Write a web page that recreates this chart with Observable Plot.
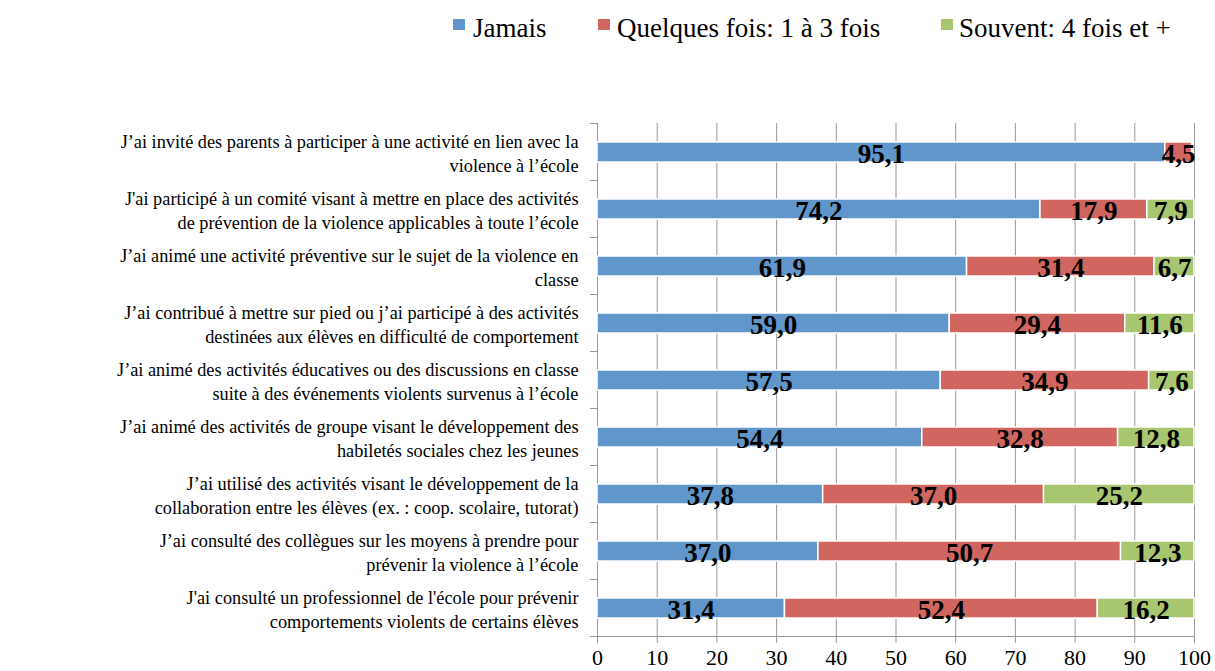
<!DOCTYPE html>
<html><head><meta charset="utf-8">
<script src="https://cdn.jsdelivr.net/npm/d3@7"></script>
<script src="https://cdn.jsdelivr.net/npm/@observablehq/plot@0.6"></script>
<style>
body{margin:0;background:#fff;font-family:"Liberation Serif",serif;}
#legend{position:relative;height:50px;width:1215px;}
.sw{position:absolute;width:12px;height:11px;top:19px}
.lt{position:absolute;top:13px;font-size:27px;line-height:30px;color:#000;white-space:nowrap}
</style></head><body>
<div id="legend"></div><div id="chart"></div>
<script>
const categories = [
  "J’ai invité des parents à participer à une activité en lien avec la\nviolence à l’école",
  "J'ai participé à un comité visant à mettre en place des activités\nde prévention de la violence applicables à toute l’école",
  "J’ai animé une activité préventive sur le sujet de la violence en\nclasse",
  "J’ai contribué à mettre sur pied ou j’ai participé à des activités\ndestinées aux élèves en difficulté de comportement",
  "J’ai animé des activités éducatives ou des discussions en classe\nsuite à des événements violents survenus à l’école",
  "J’ai animé des activités de groupe visant le développement des\nhabiletés sociales chez les jeunes",
  "J’ai utilisé des activités visant le développement de la\ncollaboration entre les élèves (ex. : coop. scolaire, tutorat)",
  "J’ai consulté des collègues sur les moyens à prendre pour\nprévenir la violence à l’école",
  "J'ai consulté un professionnel de l'école pour prévenir\ncomportements violents de certains élèves"
];
const seriesNames = ["Jamais", "Quelques fois: 1 à 3 fois", "Souvent: 4 fois et +"];
const jamais   = [95.1, 74.2, 61.9, 59.0, 57.5, 54.4, 37.8, 37.0, 31.4];
const quelques = [4.5, 17.9, 31.4, 29.4, 34.9, 32.8, 37.0, 50.7, 52.4];
const souvent  = [null, 7.9, 6.7, 11.6, 7.6, 12.8, 25.2, 12.3, 16.2];
const colors = ["#6096CA", "#D0665F", "#A8C56F"];
const xTicks = [0, 10, 20, 30, 40, 50, 60, 70, 80, 90, 100];

const seriesValues = [jamais, quelques, souvent];
const rows = [];
categories.forEach((c, i) => {
  seriesNames.forEach((s, j) => {
    const v = seriesValues[j][i];
    if (v != null) rows.push({cat: c, series: s, value: v});
  });
});

// legend
const legendPos = [[453, 473], [598, 617], [941, 959]];
const leg = document.getElementById("legend");
seriesNames.forEach((s, j) => {
  const sw = document.createElement("div");
  sw.className = "sw"; sw.style.left = legendPos[j][0] + "px"; sw.style.background = colors[j];
  const t = document.createElement("div");
  t.className = "lt"; t.style.left = legendPos[j][1] + "px"; t.textContent = s;
  leg.appendChild(sw); leg.appendChild(t);
});

const fmt = v => v.toFixed(1).replace(".", ",");
const gray = "#999";

const chart = Plot.plot({
  width: 1215, height: 621,
  marginLeft: 597, marginRight: 21, marginTop: 73, marginBottom: 35,
  style: {fontFamily: "Liberation Serif", background: "white", color: "black"},
  x: {domain: [0, 100], label: null},
  y: {domain: categories, padding: 0, label: null},
  color: {domain: seriesNames, range: colors},
  marks: [
    Plot.gridX(xTicks, {stroke: gray, strokeOpacity: 1}),
    Plot.axisX({ticks: xTicks, tickSize: 7, tickPadding: 6, fontSize: 22, stroke: gray, tickFormat: d => d, label: null}),
    Plot.ruleX([0], {stroke: gray}),
    Plot.ruleY(categories, {y: d => d, x1: -1.2, x2: 0, dy: -28.5, stroke: gray}),
    Plot.ruleY([categories[categories.length - 1]], {y: d => d, x1: -1.2, x2: 100, dy: 28.5, stroke: gray}),
    Plot.barX(rows, Plot.stackX({x: "value", y: "cat", fill: "series", order: seriesNames,
      insetTop: 19, insetBottom: 18, stroke: "white", strokeWidth: 1.5})),
    Plot.text(rows, Plot.stackX({x: "value", y: "cat", z: "series", order: seriesNames,
      text: d => fmt(d.value), fontSize: 27, fontWeight: "bold", fill: "black", dy: 2})),
    Plot.axisY({tickSize: 0, tickPadding: 19, fontSize: 18.3, lineHeight: 1.32, textAnchor: "end", label: null})
  ]
});
document.getElementById("chart").appendChild(chart);
</script>
</body></html>
